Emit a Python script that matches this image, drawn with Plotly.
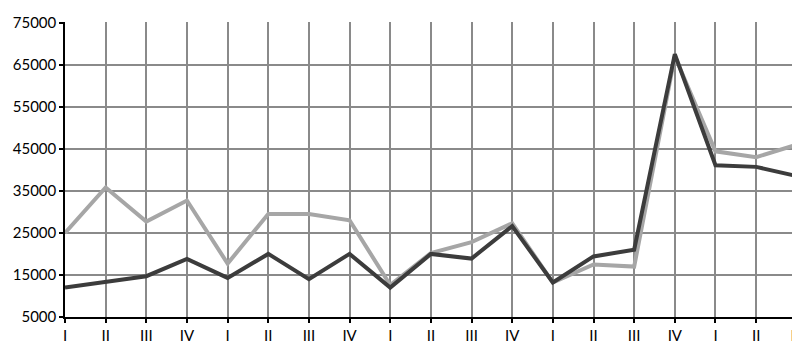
import plotly.graph_objects as go

quarters = ["I", "II", "III", "IV", "I", "II", "III", "IV", "I", "II", "III", "IV",
            "I", "II", "III", "IV", "I", "II", "III"]
light_series = [25000, 35800, 27700, 32700, 17700, 29500, 29500, 28000, 12600, 20200,
                22800, 27300, 13200, 17500, 17000, 67000, 44400, 43000, 46000]
dark_series = [12000, 13300, 14700, 18800, 14300, 20000, 14000, 20000, 12000, 20000,
               18900, 26600, 13200, 19400, 21000, 67500, 41100, 40700, 38500]
y_ticks = [5000, 15000, 25000, 35000, 45000, 55000, 65000, 75000]
y_labels = [str(v) for v in y_ticks]

x = list(range(len(quarters)))

fig = go.Figure()
fig.add_trace(go.Scatter(x=x, y=light_series, mode="lines",
                         line=dict(color="#a6a6a6", width=4), showlegend=False))
fig.add_trace(go.Scatter(x=x, y=dark_series, mode="lines",
                         line=dict(color="#3c3c3c", width=4), showlegend=False))

fig.update_layout(
    width=800, height=341,
    margin=dict(l=57, r=6, t=5, b=27),
    paper_bgcolor="white", plot_bgcolor="white",
    font=dict(family="Lato", size=15, color="black"),
    xaxis=dict(range=[0, len(quarters) - 1 + 0.03], tickvals=x, ticktext=quarters,
               tickfont=dict(color="black"), ticklabeloverflow="allow",
               showgrid=True, gridcolor="#8a8a8a", gridwidth=1.5,
               showline=True, linecolor="black", linewidth=1.5,
               ticks="outside", ticklen=4, tickcolor="black", tickwidth=1.5,
               zeroline=False, fixedrange=True),
    yaxis=dict(range=[5000, 75150], tickvals=y_ticks, ticktext=y_labels,
               tickfont=dict(color="black"), ticklabeloverflow="allow",
               showgrid=True, gridcolor="#8a8a8a", gridwidth=1.5,
               showline=True, linecolor="black", linewidth=1.5,
               ticks="outside", ticklen=4, tickcolor="black", tickwidth=1.5,
               zeroline=False, fixedrange=True),
)

fig.write_html("out.html")
